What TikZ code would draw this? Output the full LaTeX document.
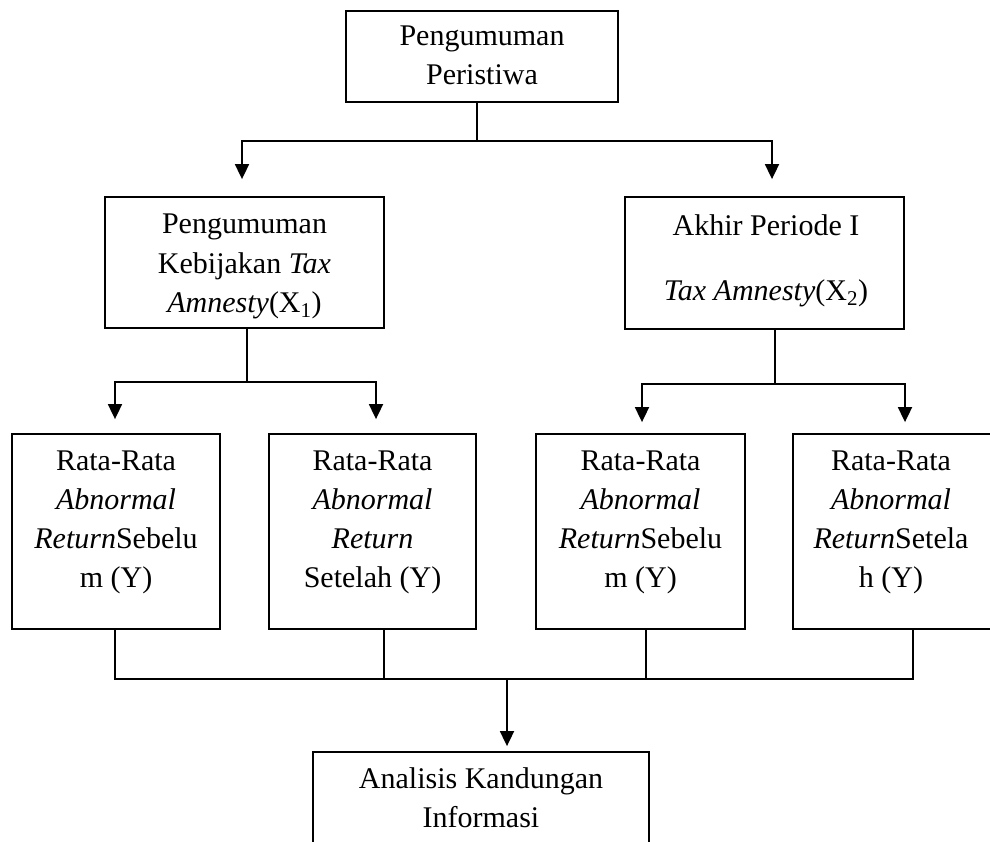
\documentclass[tikz,border=0pt]{standalone}
\usepackage{fontspec}
\setmainfont{Liberation Serif}
\usetikzlibrary{arrows.meta,calc}
\begin{document}
\begin{tikzpicture}[x=1pt,y=-1pt,
  box/.style={draw,line width=1.8pt,inner sep=0pt,rectangle},
  txt/.style={align=center,inner sep=0pt,anchor=base,font=\fontsize{30}{39}\selectfont},
  conn/.style={line width=1.8pt},
  arr/.style={line width=1.8pt,-{Triangle[width=14pt,length=15pt]}}]
\useasboundingbox (0,0) rectangle (990,842);
\clip (0,0) rectangle (990,842);
% boxes
\node[box,minimum width=272pt,minimum height=91pt]  (A)  at (482,56.5) {};
\node[box,minimum width=279pt,minimum height=131pt] (X1) at (244.5,262.5) {};
\node[box,minimum width=279pt,minimum height=132pt] (X2) at (764.5,263) {};
\node[box,minimum width=208pt,minimum height=195pt] (B1) at (116,531.5) {};
\node[box,minimum width=207pt,minimum height=195pt] (B2) at (372.5,531.5) {};
\node[box,minimum width=209pt,minimum height=195pt] (B3) at (640.5,531.5) {};
\node[box,minimum width=199pt,minimum height=195pt] (B4) at (892.5,531.5) {};
\node[box,minimum width=336pt,minimum height=148pt] (F)  at (481,826) {};
% texts (anchor base = baseline of the last line)
\node[txt] (tA)  at (482,85) {Pengumuman\\Peristiwa};
\node[txt] (tX1) at (244.5,312) {Pengumuman\\Kebijakan \textit{Tax}\\\textit{Amnesty}(X\textsubscript{1})};
\node[txt] (tX2) at (766,300) {Akhir Periode I\\[26pt]\textit{Tax Amnesty}(X\textsubscript{2})};
\node[txt] (tB1) at (116,587) {Rata-Rata\\\textit{Abnormal}\\\textit{Return}Sebelu\\m (Y)};
\node[txt] (tB2) at (372.5,587) {Rata-Rata\\\textit{Abnormal}\\\textit{Return}\\Setelah (Y)};
\node[txt] (tB3) at (640.5,587) {Rata-Rata\\\textit{Abnormal}\\\textit{Return}Sebelu\\m (Y)};
\node[txt] (tB4) at (891,587) {Rata-Rata\\\textit{Abnormal}\\\textit{Return}Setela\\h (Y)};
\node[txt] (tF)  at (481,827) {Analisis Kandungan\\Informasi};
% connectors: top level
\draw[conn] ($(A.south)+(-5,0)$) -- ++(0,38) coordinate (jA);
\draw[arr] (jA) -| ($(X1.north)+(-2.5,-17)$);
\draw[arr] (jA) -| ($(X2.north)+(7.5,-17)$);
% X1 branch
\draw[conn] ($(X1.south)+(2.5,0)$) -- ++(0,53) coordinate (jX1);
\draw[arr] (jX1) -| ($(B1.north)+(-1,-14)$);
\draw[arr] (jX1) -| ($(B2.north)+(3.5,-14)$);
% X2 branch
\draw[conn] ($(X2.south)+(10.5,0)$) -- ++(0,54) coordinate (jX2);
\draw[arr] (jX2) -| ($(B3.north)+(1.5,-11)$);
\draw[arr] (jX2) -| ($(B4.north)+(12.5,-11)$);
% bottom collector
\draw[conn] ($(B1.south)+(-1,0)$) -- ++(0,49) coordinate (jB) -| ($(B4.south)+(20.5,0)$);
\draw[conn] ($(B2.south)+(11.5,0)$) -- ++(0,49);
\draw[conn] ($(B3.south)+(5.5,0)$) -- ++(0,49);
\draw[arr] ($(jB -| F.north)+(26,0)$) -- ($(F.north)+(26,-5)$);
\end{tikzpicture}
\end{document}
